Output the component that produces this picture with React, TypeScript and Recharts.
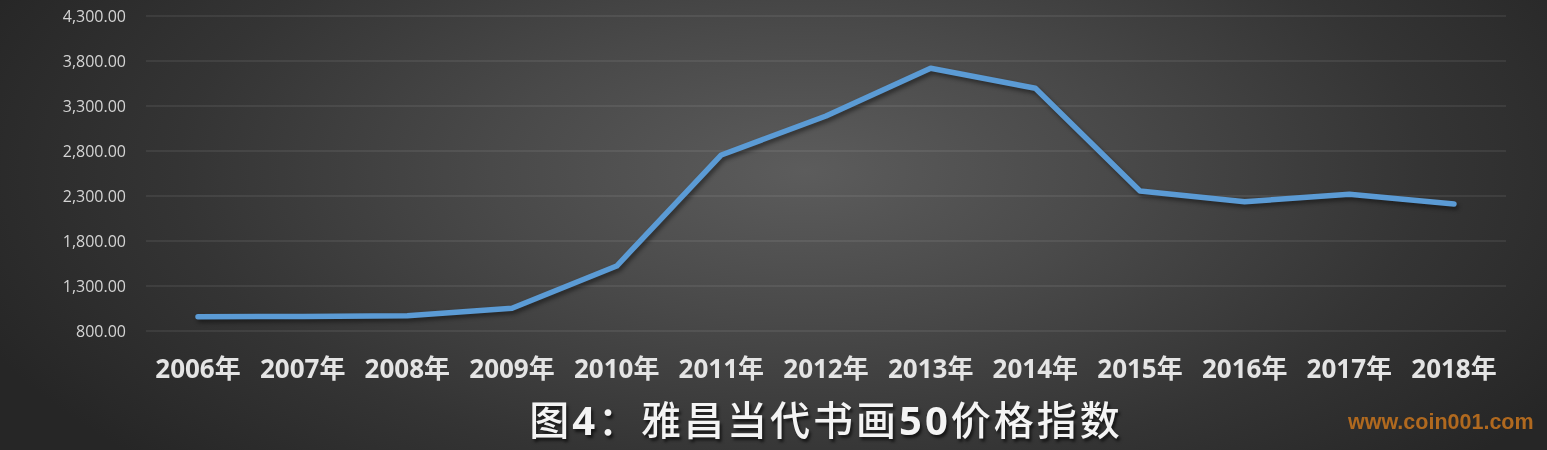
import React from "react";
import { LineChart, Line, XAxis, YAxis, CartesianGrid } from "recharts";

const years = [
  "2006年", "2007年", "2008年", "2009年", "2010年", "2011年", "2012年",
  "2013年", "2014年", "2015年", "2016年", "2017年", "2018年",
];
const priceIndex = [
  959, 961, 970, 1052, 1522, 2756, 3189, 3719, 3497, 2356, 2237, 2319, 2211,
];
const yTicks = [800, 1300, 1800, 2300, 2800, 3300, 3800, 4300];

const titleParts = ["图", "4", "：雅昌当代书画", "50", "价格指数"];
const watermark = "www.coin001.com";

const data = years.map((year, i) => ({ year, value: priceIndex[i] }));

const fmt = (v: number) =>
  v.toLocaleString("en-US", { minimumFractionDigits: 2, maximumFractionDigits: 2 });

export default function App() {
  return (
    <div
      style={{
        position: "fixed",
        left: 0,
        top: 0,
        width: 1547,
        height: 450,
        overflow: "hidden",
        background:
          "radial-gradient(ellipse 58% 95% at 52% 38%, #5c5c5c 0%, #494949 35%, #343434 70%, #262626 100%)",
      }}
    >
      <style>{`.recharts-line-curve { filter: drop-shadow(2px 3px 2px rgba(0,0,0,0.45)); }`}</style>
      <LineChart
        width={1547}
        height={450}
        data={data}
        margin={{ top: 16, right: 41, bottom: 0, left: 0 }}
      >
        <CartesianGrid vertical={false} stroke="rgba(255,255,255,0.14)" strokeWidth={1} />
        <XAxis
          dataKey="year"
          height={119}
          padding={{ left: 52, right: 52 }}
          axisLine={false}
          tickLine={false}
          tickMargin={23}
          interval={0}
          tick={{
            fill: "#e4e4e4",
            fontSize: 26,
            fontWeight: 700,
            fontFamily: "'Open Sans', 'Noto Sans CJK SC', sans-serif",
          }}
        />
        <YAxis
          width={146}
          domain={[800, 4300]}
          ticks={yTicks}
          axisLine={false}
          tickLine={false}
          tickMargin={14}
          tickFormatter={fmt}
          tick={{ fill: "#d4d4d4", fontSize: 16, fontFamily: "'Open Sans', sans-serif" }}
        />
        <Line
          type="linear"
          dataKey="value"
          stroke="#5b9bd5"
          strokeWidth={5.5}
          strokeLinecap="round"
          strokeLinejoin="round"
          dot={false}
          activeDot={false}
          isAnimationActive={false}
        />
      </LineChart>
      <div
        style={{
          position: "absolute",
          left: 146,
          width: 1360,
          top: 393,
          textAlign: "center",
          color: "#f4f4f4",
          fontSize: 40,
          fontWeight: 500,
          letterSpacing: 3,
          lineHeight: "50px",
          fontFamily: "'Noto Sans CJK SC', 'Open Sans', sans-serif",
          textShadow: "2px 3px 3px rgba(0,0,0,0.6)",
        }}
      >
        {titleParts.map((p, i) => (
          <span
            key={i}
            style={/^\d+$/.test(p) ? { fontWeight: 700, fontFamily: "'Open Sans', sans-serif" } : undefined}
          >
            {p}
          </span>
        ))}
      </div>
      <div
        style={{
          position: "absolute",
          left: 1348,
          top: 409,
          color: "#b0691f",
          fontSize: 21.5,
          fontWeight: 700,
          fontFamily: "'Liberation Sans', Arial, sans-serif",
          lineHeight: "26px",
        }}
      >
        {watermark}
      </div>
    </div>
  );
}
